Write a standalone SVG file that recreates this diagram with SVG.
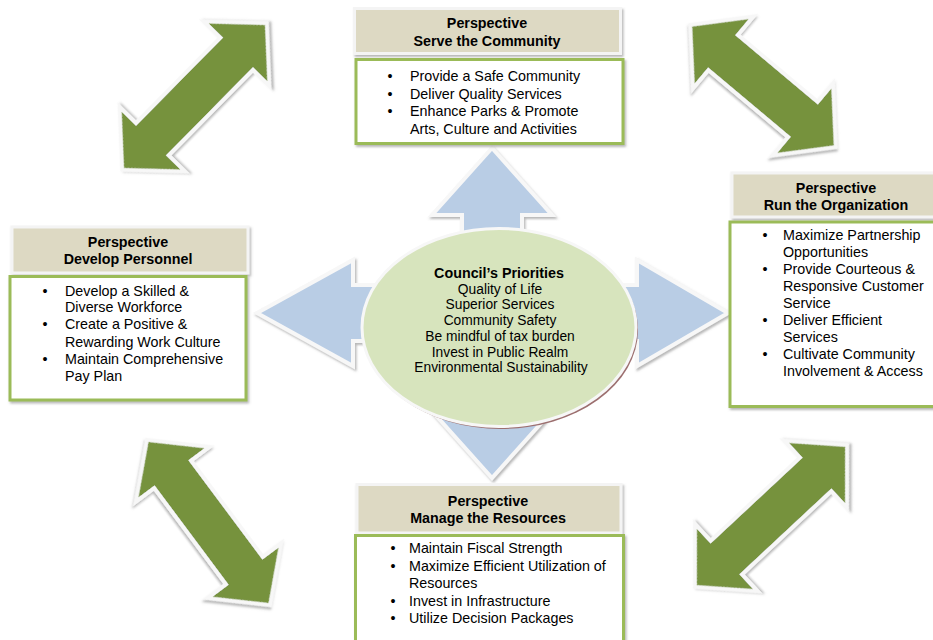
<svg xmlns="http://www.w3.org/2000/svg" width="933" height="640" viewBox="0 0 933 640">
<defs>
<filter id="sh" x="-20%" y="-20%" width="140%" height="140%">
<feDropShadow dx="1.5" dy="2" stdDeviation="1" flood-color="#6f6f6f" flood-opacity="0.5"/>
</filter>
</defs>
<style>
text{font-family:"Liberation Sans",Arial,sans-serif;font-size:14.3px;fill:#000}
.t{font-weight:bold;text-anchor:middle}
.c{text-anchor:middle;font-size:13.8px}
.hd{fill:#ddd9c3;stroke:#f4f4f4;stroke-width:3;filter:url(#sh)}
.bd{fill:#fff;stroke:#9bbb59;stroke-width:3;filter:url(#sh)}
.ga{fill:#76923c;stroke:#f7f7f7;stroke-width:4;stroke-linejoin:miter;filter:url(#sh)}
.ba{fill:#b9cde5;stroke:#f7f7f7;stroke-width:4;filter:url(#sh)}
</style>
<rect width="933" height="640" fill="#fff"/>

<g id="connectors">
<path class="ga" d="M-103,0 L-60,-46 L-60,-23 L60,-23 L60,-46 L103,0 L60,46 L60,23 L-60,23 L-60,46 Z" transform="translate(194.5,96.5) rotate(-45.4)"/>
<path class="ga" d="M-95,0 L-52,-47 L-52,-23 L52,-23 L52,-47 L95,0 L52,47 L52,23 L-52,23 L-52,47 Z" transform="translate(763,86) rotate(40)"/>
<path class="ga" d="M-103,0 L-60,-46 L-60,-23 L60,-23 L60,-46 L103,0 L60,46 L60,23 L-60,23 L-60,46 Z" transform="translate(208.5,522.5) rotate(53.3)"/>
<path class="ga" d="M-104,0 L-61,-46 L-61,-23 L61,-23 L61,-46 L104,0 L61,46 L61,23 L-61,23 L-61,46 Z" transform="translate(771,516) rotate(-43)"/>
<polygon class="ba" points="492,148 552,215 522,215 522,285 637,285 637,260 728,313 637,366 637,341 522,341 522,411 552,411 492,478 432,411 462,411 462,341 353,341 353,366 257,313 353,260 353,285 462,285 462,215 432,215"/>
</g>

<g id="priorities">
<ellipse cx="501" cy="330" rx="137" ry="99" fill="#9c6f6f"/>
<ellipse cx="499" cy="327.5" rx="137" ry="99" fill="#d7e4bd" stroke="#f7f7f7" stroke-width="3"/>
<text class="t" x="499" y="278">Council’s Priorities</text>
<text class="c" x="500" y="293.7">Quality of Life</text>
<text class="c" x="500" y="309.4">Superior Services</text>
<text class="c" x="500" y="325">Community Safety</text>
<text class="c" x="500" y="340.8">Be mindful of tax burden</text>
<text class="c" x="500" y="356.5">Invest in Public Realm</text>
<text class="c" x="501" y="372.2">Environmental Sustainability</text>
</g>

<g id="serve">
<rect class="hd" x="354.5" y="8.5" width="266" height="45"/>
<text class="t" x="487" y="28">Perspective</text>
<text class="t" x="487" y="45.5">Serve the Community</text>
<rect class="bd" x="356" y="59.5" width="267" height="84"/>
<text x="387.5" y="81">•</text><text x="410" y="81">Provide a Safe Community</text>
<text x="387.5" y="98.5">•</text><text x="410" y="98.5">Deliver Quality Services</text>
<text x="387.5" y="116">•</text><text x="410" y="116">Enhance Parks &amp; Promote</text>
<text x="410" y="133.5">Arts, Culture and Activities</text>
</g>

<g id="run">
<rect class="hd" x="732" y="173" width="215" height="44"/>
<text class="t" x="836" y="192.5">Perspective</text>
<text class="t" x="836" y="209.5">Run the Organization</text>
<rect class="bd" x="730" y="222" width="215" height="184.5"/>
<text x="762.5" y="239.5">•</text><text x="783" y="239.5">Maximize Partnership</text>
<text x="783" y="256.6">Opportunities</text>
<text x="762.5" y="273.7">•</text><text x="783" y="273.7">Provide Courteous &amp;</text>
<text x="783" y="290.8">Responsive Customer</text>
<text x="783" y="307.9">Service</text>
<text x="762.5" y="325">•</text><text x="783" y="325">Deliver Efficient</text>
<text x="783" y="342.1">Services</text>
<text x="762.5" y="359.2">•</text><text x="783" y="359.2">Cultivate Community</text>
<text x="783" y="376.3">Involvement &amp; Access</text>
</g>

<g id="develop">
<rect class="hd" x="12" y="227" width="236" height="46"/>
<text class="t" x="128" y="247.3">Perspective</text>
<text class="t" x="128" y="264">Develop Personnel</text>
<rect class="bd" x="10" y="276.5" width="236" height="123.5"/>
<text x="42.5" y="295.5">•</text><text x="65" y="295.5">Develop a Skilled &amp;</text>
<text x="65" y="312.3">Diverse Workforce</text>
<text x="42.5" y="329.3">•</text><text x="65" y="329.3">Create a Positive &amp;</text>
<text x="65" y="346.5">Rewarding Work Culture</text>
<text x="42.5" y="363.5">•</text><text x="65" y="363.5">Maintain Comprehensive</text>
<text x="65" y="380.5">Pay Plan</text>
</g>

<g id="manage">
<rect class="hd" x="357" y="484.5" width="264" height="48.5"/>
<text class="t" x="488" y="505.5">Perspective</text>
<text class="t" x="488" y="523">Manage the Resources</text>
<rect class="bd" x="355.5" y="535.5" width="268" height="120"/>
<text x="390.5" y="553.3">•</text><text x="409" y="553.3">Maintain Fiscal Strength</text>
<text x="390.5" y="571">•</text><text x="409" y="571">Maximize Efficient Utilization of</text>
<text x="409" y="588">Resources</text>
<text x="390.5" y="605.5">•</text><text x="409" y="605.5">Invest in Infrastructure</text>
<text x="390.5" y="623">•</text><text x="409" y="623">Utilize Decision Packages</text>
</g>
</svg>
